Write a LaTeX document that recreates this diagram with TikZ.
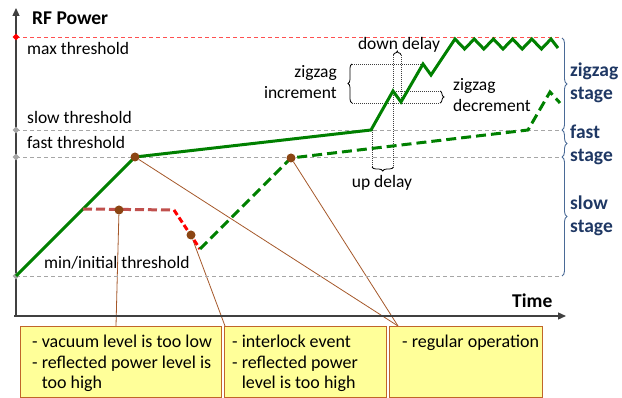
\documentclass[tikz,border=0pt]{standalone}
\usepackage{fontspec}
\setmainfont{Carlito}
\usetikzlibrary{shapes.geometric,decorations.pathreplacing,arrows.meta,calc,backgrounds}
\definecolor{gr}{HTML}{008000}
\definecolor{redd}{HTML}{C0504D}
\definecolor{brt}{HTML}{FF0000}
\definecolor{dotc}{HTML}{8B4513}
\definecolor{conc}{HTML}{A5582A}
\definecolor{boxf}{HTML}{FFFF99}
\definecolor{boxd}{HTML}{C0652A}
\definecolor{stg}{HTML}{1F3864}
\definecolor{brc}{HTML}{4A6A96}
\definecolor{thr}{HTML}{A6A6A6}
\definecolor{mx}{HTML}{FF5050}
\definecolor{ax}{HTML}{404040}
\newcommand{\mylines}[2]{\begin{tabular}[t]{@{}#1@{}}#2\end{tabular}}
\begin{document}
\begin{tikzpicture}[x=1pt,y=-1pt,
  lbl/.style={font=\fontsize{17.5}{21}\selectfont, inner sep=0, anchor=base west},
  blbl/.style={font=\fontsize{19.5}{22.5}\selectfont\bfseries, inner sep=0, anchor=base west},
  stagelbl/.style={blbl, text=stg},
  thrline/.style={draw=thr, line width=0.9, dash pattern=on 4pt off 3pt},
  maxline/.style={draw=mx, line width=0.9, dash pattern=on 4pt off 3pt},
  diam/.style={diamond, inner sep=0, minimum size=7, fill=thr},
  axisline/.style={draw=ax, line width=1.3, -{Triangle[length=8pt,width=7pt]}},
  gline/.style={draw=gr, line width=3},
  gdash/.style={gline, dash pattern=on 10pt off 5pt},
  rdash/.style={draw=redd, line width=3, dash pattern=on 9pt off 4pt},
  rdashb/.style={draw=brt, line width=3, dash pattern=on 6pt off 3pt},
  evdot/.style={circle, fill=dotc, inner sep=0, minimum size=9},
  conn/.style={draw=conc, line width=0.8},
  note/.style={rectangle, draw=boxd, line width=1.1, fill=boxf, anchor=north west, minimum height=71, inner sep=0},
  notetxt/.style={font=\fontsize{18}{20.5}\selectfont, inner sep=0, anchor=base west},
  helper/.style={draw=black!75, line width=0.6, dash pattern=on 0.8pt off 1.2pt},
  dbrace/.style={draw=black, line width=0.8, decorate, decoration={brace, amplitude=4pt}},
  sbrace/.style={draw=brc, line width=0.9, decorate, decoration={brace, amplitude=5pt}}
]
\useasboundingbox (0,0) rectangle (622,398);

% threshold lines
\coordinate (tmaxE) at (562,37);
\coordinate (tslowE) at (562,130);
\coordinate (tfastE) at (562,157);
\coordinate (tminE) at (562,276);
\coordinate (tmaxW) at (16,37);
\coordinate (tslowW) at (16,130);
\coordinate (tfastW) at (16,157);
\coordinate (tminW) at (16,276);
\draw[maxline] (tmaxW) -- (tmaxE);
\draw[thrline] (tslowW) -- (tslowE);
\draw[thrline] (tfastW) -- (tfastE);
\draw[thrline] (tminW) -- (tminE);

% axes
\coordinate (ybot) at (16,317);
\coordinate (ytip) at (16,8);
\coordinate (xstart) at (14,316);
\coordinate (xtip) at (566,316);
\draw[axisline] (ybot) -- (ytip);
\draw[axisline] (xstart) -- (xtip);

% markers on the axis
\node[diam, fill=brt] (dmax) at (tmaxW) {};
\node[diam] (dslow) at (tslowW) {};
\node[diam] (dfast) at (tfastW) {};
\node[diam] (dmin) at (tminW) {};

% helper dotted lines
\draw[helper] (352,64) -- (423,64);
\draw[helper] (352,103) -- (440,103);
\draw[helper] (394,91) -- (440,91);
\draw[helper] (393.5,55) -- (393.5,167);
\draw[helper] (401,55) -- (401,103);
\draw[helper] (372,130) -- (372,167);

% small braces
\draw[dbrace] (352,103) -- (352,64);
\draw[dbrace] (440,91) -- (440,103);
\draw[dbrace] (393.5,55) -- (401,55);
\draw[dbrace] (393.5,167) -- (372,167);

% stage braces
\draw[sbrace] (562,38) -- (562,130);
\draw[sbrace] (562,130) -- (562,157);
\draw[sbrace] (562,157) -- (562,276);

% event points
\coordinate (pA) at (135,157);
\coordinate (pB) at (291,158);
\coordinate (pC) at (119,210);
\coordinate (pD) at (191,235);

% solid green run
\draw[gline] (tminW) -- (pA) -- (371,130) -- (393,91) -- (401,102) -- (423,64) -- (431,75) -- (455,39)
  -- (464.6,49) -- (474.2,39) -- (483.8,49) -- (493.4,39) -- (503,49) -- (512.6,39)
  -- (522.2,49) -- (531.8,39) -- (541.4,49) -- (551,39) -- (558,48);

% red interruption
\coordinate (r0) at (83,209);
\coordinate (r1) at (174,210);
\coordinate (r2) at (200,249);
\draw[rdash] (r0) -- (r1);
\draw[rdashb] (r1) -- (r2);

% dashed green run
\draw[gdash] (r2) -- (pB) -- (528,130) -- (550,92) -- (560,103);

% dots
\node[evdot] (A) at (pA) {};
\node[evdot] (B) at (pB) {};
\node[evdot] (C) at (pC) {};
\node[evdot] (D) at (pD) {};

% boxes
\node[note, minimum width=201] (n1) at (20,326) {};
\node[note, minimum width=162] (n2) at (224,326) {};
\node[note, minimum width=153] (n3) at (389,326) {};

% connectors (behind everything)
\coordinate (e1) at ($(n1.north west)+(96,0)$);
\coordinate (e2) at ($(n2.north west)+(1,0)$);
\coordinate (e3) at ($(n3.north west)+(9,0)$);
\begin{pgfonlayer}{background}
\draw[conn] (C) -- (e1);
\draw[conn] (D) -- (e2);
\draw[conn] (A) -- (e3);
\draw[conn] (B) -- (e3);
\end{pgfonlayer}

% box texts
\node[notetxt] (t1) at (32,348) {\mylines{l}{- vacuum level is too low\\- reflected power level is\\\hphantom{- }too high}};
\node[notetxt] (t2) at (232,348) {\mylines{l}{- interlock event\\- reflected power\\\hphantom{- }level is too high}};
\node[notetxt] (t3) at (402,348) {\mylines{l}{- regular operation}};

% labels
\node[blbl] (rf) at (32,25) {RF Power};
\node[blbl] (time) at (512,308) {Time};
\node[lbl] (lmax) at (27,55) {max threshold};
\node[lbl] (lslow) at (27,124) {slow threshold};
\node[lbl] (lfast) at (27,149) {fast threshold};
\node[lbl] (lmin) at (44,269) {min/initial threshold};
\node[lbl, anchor=base] (ldown) at (399,50) {down delay};
\node[lbl, anchor=base] (lup) at (382,188) {up delay};
\node[lbl, anchor=base east] (linc) at (337,78) {\mylines{r}{zigzag\\increment}};
\node[lbl] (ldec) at (453,91) {\mylines{l}{zigzag\\decrement}};
\node[stagelbl] (sz) at (570,77) {\mylines{l}{zigzag\\stage}};
\node[stagelbl] (sf) at (570,139) {\mylines{l}{fast\\stage}};
\node[stagelbl] (ss) at (570,210) {\mylines{l}{slow\\stage}};
\end{tikzpicture}
\end{document}
